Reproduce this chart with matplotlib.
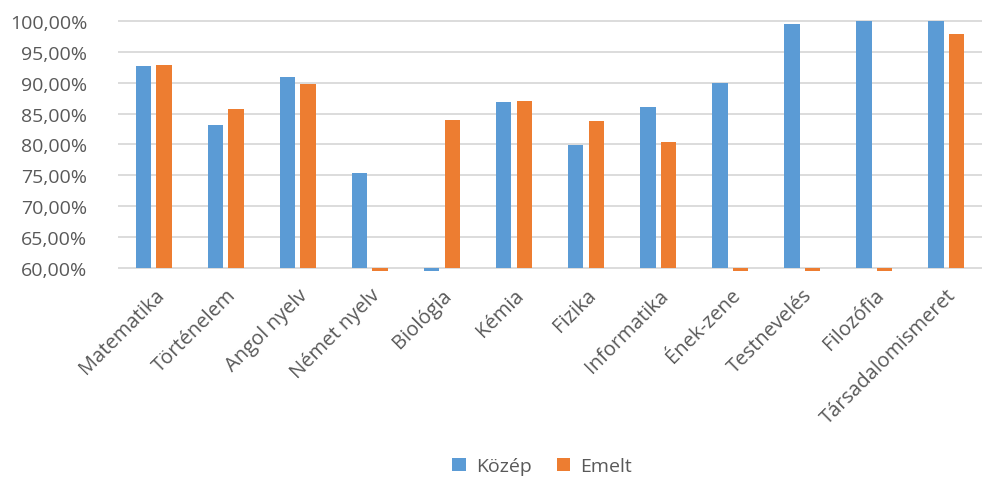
import numpy as np
import matplotlib
matplotlib.use("Agg")
import matplotlib.pyplot as plt
from matplotlib.ticker import FuncFormatter

categories = ["Matematika", "Történelem", "Angol nyelv", "Német nyelv", "Biológia", "Kémia",
              "Fizika", "Informatika", "Ének-zene", "Testnevelés", "Filozófia", "Társadalomismeret"]
kozep = [92.7, 83.2, 90.9, 75.4, 0, 86.9, 79.9, 86.0, 90.0, 99.5, 100.0, 100.0]
emelt = [92.9, 85.7, 89.8, 0, 84.0, 87.0, 83.8, 80.4, 0, 0, 0, 97.9]

plt.rcParams['font.family'] = ['Open Sans', 'DejaVu Sans']
TXT = "#595959"

fig = plt.figure(figsize=(9.91, 4.89), dpi=100)
ax = fig.add_axes([0.119, 0.4438, 0.872, 0.515])

base = 60
x = np.arange(len(categories))
w = 0.22
ax.bar(x - 0.145, np.array(kozep) - base, bottom=base, width=w, color="#5B9BD5", label="Közép", zorder=3)
ax.bar(x + 0.145, np.array(emelt) - base, bottom=base, width=w, color="#ED7D31", label="Emelt", zorder=3)

ax.set_ylim(59.5, 100.3)
ax.set_xlim(-0.5, len(categories) - 0.5)
ax.set_yticks(np.arange(60, 101, 5))
ax.yaxis.set_major_formatter(FuncFormatter(lambda v, p: f"{v:.2f}%".replace(".", ",")))
ax.grid(axis="y", color="#D9D9D9", linewidth=1.3, zorder=0)
for s in ax.spines.values():
    s.set_visible(False)
ax.tick_params(axis="both", length=0, labelsize=14, labelcolor=TXT)
ax.tick_params(axis="y", pad=22)
ax.set_xticks(x)
ax.set_xticklabels(categories, rotation=45, ha="right", rotation_mode="anchor", fontsize=14.5)
ax.tick_params(axis="x", pad=10)

fig.legend(loc="lower center", bbox_to_anchor=(0.547, -0.01), ncol=2, frameon=False,
           fontsize=14, labelcolor=TXT, handlelength=0.7, handleheight=0.7,
           handletextpad=0.5, columnspacing=1.3)

fig.savefig("out.png", dpi=100)
